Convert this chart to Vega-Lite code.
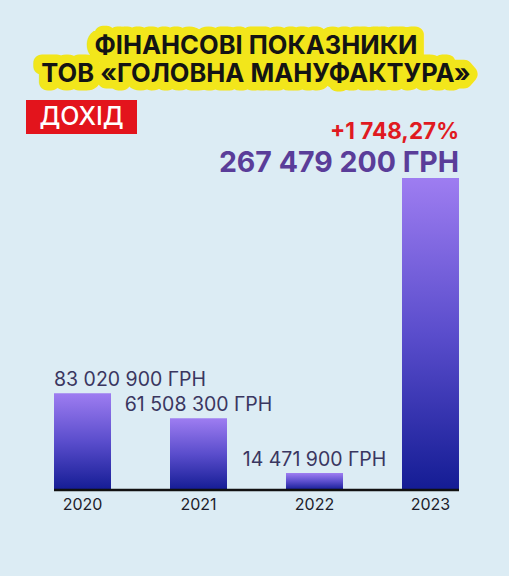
{
  "$schema": "https://vega.github.io/schema/vega-lite/v6.json",
  "background": "#dcecf4",
  "padding": {"left": 26, "top": 32, "right": 22, "bottom": 64},
  "config": {"view": {"stroke": null}, "font": "Inter"},
  "bounds": "flush",
  "spacing": 12,
  "vconcat": [
    {
      "width": 460,
      "height": 56,
      "data": {"values": [{"line": "ФІНАНСОВІ ПОКАЗНИКИ"}, {"line": "ТОВ «ГОЛОВНА МАНУФАКТУРА»"}]},
      "encoding": {
        "y": {"field": "line", "type": "nominal", "sort": null, "axis": null, "scale": {"padding": 0.5}},
        "text": {"field": "line"}
      },
      "layer": [
        {"mark": {"type": "text", "fontSize": 25.5, "fontWeight": 700, "color": "#f2e61b", "stroke": "#f2e61b", "strokeWidth": 17, "strokeJoin": "round", "baseline": "middle"}},
        {"mark": {"type": "text", "fontSize": 25.5, "fontWeight": 700, "color": "#141414", "baseline": "middle"}}
      ]
    },
    {
      "spacing": 0,
      "bounds": "flush",
      "vconcat": [
        {
          "width": 111,
          "height": 34,
          "view": {"fill": "#e3141c", "stroke": null},
          "data": {"values": [{"label": "ДОХІД"}]},
          "mark": {"type": "text", "fontSize": 25, "fontWeight": 500, "color": "white", "baseline": "middle"},
          "encoding": {"text": {"field": "label"}}
        },
        {
          "width": 461,
          "height": 356,
          "data": {"values": [
            {"year": "2020", "revenue": 83020900, "label": "83 020 900 ГРН"},
            {"year": "2021", "revenue": 61508300, "label": "61 508 300 ГРН"},
            {"year": "2022", "revenue": 14471900, "label": "14 471 900 ГРН"},
            {"year": "2023", "revenue": 267479200, "label": "267 479 200 ГРН", "change": "+1 748,27%"}
          ]},
          "encoding": {
            "x": {"field": "year", "type": "nominal", "scale": {"paddingInner": 0.5086, "paddingOuter": 0.2414},
                  "axis": {"domain": false, "ticks": false, "grid": false, "labelAngle": 0, "labelFontSize": 16, "labelColor": "#1d1d2b", "labelPadding": 6, "title": null}},
            "y": {"field": "revenue", "type": "quantitative", "scale": {"domain": [0, 305200000], "nice": false}, "axis": null}
          },
          "layer": [
            {"mark": {"type": "bar", "fill": {"gradient": "linear", "x1": 0, "y1": 0, "x2": 0, "y2": 1,
              "stops": [{"offset": 0, "color": "#9e7df1"}, {"offset": 0.5, "color": "#5a4dcc"}, {"offset": 1, "color": "#141c94"}]}}},
            {"data": {"values": [{"from": "2020", "to": "2023", "base": 0}]},
             "mark": {"type": "rule", "color": "#111111", "strokeWidth": 2.5},
             "encoding": {"x": {"field": "from", "type": "nominal", "bandPosition": 0}, "x2": {"field": "to", "bandPosition": 1}, "y": {"field": "base", "type": "quantitative"}}},
            {"transform": [{"filter": "datum.year == '2020'"}],
             "mark": {"type": "text", "align": "left", "baseline": "alphabetic", "dy": -7, "fontSize": 19.5, "color": "#3a3660"},
             "encoding": {"x": {"field": "year", "type": "nominal", "bandPosition": 0}, "text": {"field": "label"}}},
            {"transform": [{"filter": "datum.year == '2021' || datum.year == '2022'"}],
             "mark": {"type": "text", "align": "center", "baseline": "alphabetic", "dy": -7, "fontSize": 19.5, "color": "#3a3660"},
             "encoding": {"text": {"field": "label"}}},
            {"transform": [{"filter": "datum.year == '2023'"}],
             "mark": {"type": "text", "align": "right", "baseline": "alphabetic", "dy": -6, "fontSize": 28.5, "fontWeight": 700, "color": "#5a3d99"},
             "encoding": {"x": {"field": "year", "type": "nominal", "bandPosition": 1}, "text": {"field": "label"}}},
            {"transform": [{"filter": "isValid(datum.change)"}],
             "mark": {"type": "text", "align": "right", "baseline": "alphabetic", "dy": -39, "fontSize": 22.5, "fontWeight": 700, "color": "#e01a21"},
             "encoding": {"x": {"field": "year", "type": "nominal", "bandPosition": 1}, "text": {"field": "change"}}}
          ]
        }
      ]
    }
  ]
}
